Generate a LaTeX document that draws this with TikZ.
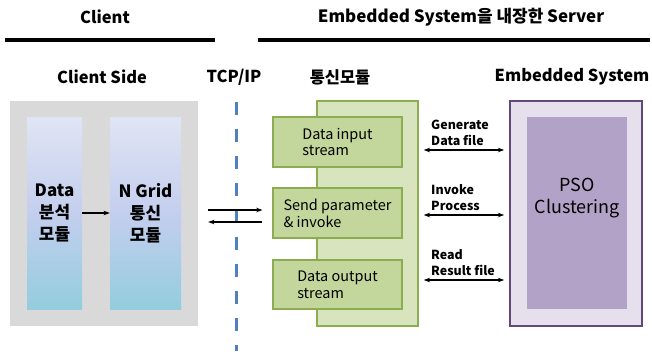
\documentclass[tikz,border=0pt]{standalone}
\usepackage{fontspec}
\setmainfont{Noto Sans CJK KR}
\usepackage{tikz}
\usetikzlibrary{arrows.meta,positioning}

\definecolor{panelgray}{RGB}{217,217,217}
\definecolor{gradtop}{RGB}{223,229,244}
\definecolor{gradmid}{RGB}{196,206,238}
\definecolor{gradbot}{RGB}{147,205,221}
\definecolor{grnlight}{RGB}{215,228,189}
\definecolor{grnbox}{RGB}{195,214,155}
\definecolor{grnline}{RGB}{140,172,80}
\definecolor{purlight}{RGB}{229,224,236}
\definecolor{purbox}{RGB}{179,162,199}
\definecolor{purline}{RGB}{96,74,123}
\definecolor{tcpblue}{RGB}{79,129,189}

\begin{document}
\begin{tikzpicture}[x=1bp,y=-1bp,
  hd/.style={font=\fontsize{16.5}{19}\selectfont\bfseries},
  bx/.style={inner sep=0,align=center},
  cl/.style={bx,top color=gradtop,bottom color=gradbot,middle color=gradmid,
    minimum height=192bp,font=\fontsize{17}{22}\selectfont\bfseries},
  gb/.style={bx,draw=grnline,line width=1.2bp,fill=grnbox,minimum width=129bp,
    align=left,font=\fontsize{14.5}{17}\selectfont},
  lb/.style={anchor=south west,inner sep=0,align=left,font=\fontsize{12.5}{16}\selectfont\bfseries},
  ar/.style={-{Stealth[length=2.2mm,width=1.6mm]},line width=1.4bp},
  dar/.style={{Stealth[length=2.2mm,width=1.6mm]}-{Stealth[length=2.2mm,width=1.6mm]},line width=1.4bp}]
\useasboundingbox (0,0) rectangle (652,351);

% headings
\node[hd] (client) at (105,17) {Client};
\node[hd,font=\fontsize{17}{19}\selectfont\bfseries] (server) at (461,17) {Embedded System을 내장한 Server};
\draw[line width=4bp] (5,40) -- (215,40);
\draw[line width=4bp] (258,40) -- (650,40);
\node[hd] (cside) at (102,77) {Client Side};
\node[hd] (tcp)   at (234,77) {TCP/IP};
\node[hd] (comm)  at (340,77) {통신모듈};
\node[hd] (emb)   at (572,77) {Embedded System};

% client side
\node[bx,fill=panelgray,minimum width=188bp,minimum height=225bp] (cbox) at (104,213.5) {};
\node[cl,minimum width=55bp] (ana)  at (54.5,213) {Data\\분석\\모듈};
\node[cl,minimum width=71bp] (grid) at (145.5,213) {N Grid\\통신\\모듈};
\draw[ar] (ana) -- (grid);

% TCP/IP boundary
\draw[tcpblue,line width=3bp,dash pattern=on 13bp off 14bp] (236,102) -- (236,351);

% communication module
\node[bx,draw=grnline,line width=1.5bp,fill=grnlight,minimum width=101bp,minimum height=225bp] (panel) at (367.5,213.5) {};
\node[gb,minimum height=50bp] (inp)  at (337.5,142)   {Data input\\stream};
\node[gb,minimum height=50bp] (send) at (337.5,213)   {Send parameter\\\& invoke};
\node[gb,minimum height=49bp] (outp) at (337.5,284.5) {Data output\\stream};

\draw[ar,shorten <=10bp,shorten >=10bp] ([yshift=3bp]cbox.east |- send) -- ([yshift=3bp]send.west);
\draw[ar,shorten <=10bp,shorten >=10bp] ([yshift=-9bp]send.west) -- ([yshift=-9bp]cbox.east |- send);

% embedded system
\node[bx,draw=purline,line width=1.8bp,fill=purlight,minimum width=132bp,minimum height=225bp] (esys) at (576,213.5) {};
\node[bx,fill=purbox,minimum width=100bp,minimum height=192bp] (pso) at (577,213) {};
\node[bx,font=\fontsize{18}{22}\selectfont] (psotxt) at ([yshift=15bp]pso.center) {PSO\\Clustering};

\draw[dar,shorten <=5bp,shorten >=5bp] ([yshift=-8bp]panel.east |- inp) -- ([yshift=-8bp]esys.west |- inp);
\draw[dar,shorten <=5bp,shorten >=5bp] ([yshift=-2bp]panel.east |- send) -- ([yshift=-2bp]esys.west |- send);
\draw[dar,shorten <=5bp,shorten >=5bp] ([yshift=4.5bp]panel.east |- outp) -- ([yshift=4.5bp]esys.west |- outp);
\node[lb] (gen) at (431,146) {Generate\\Data file};
\node[lb] (inv) at (431,211) {Invoke\\Process};
\node[lb] (rd)  at (431,276) {Read\\Result file};
\end{tikzpicture}
\end{document}
